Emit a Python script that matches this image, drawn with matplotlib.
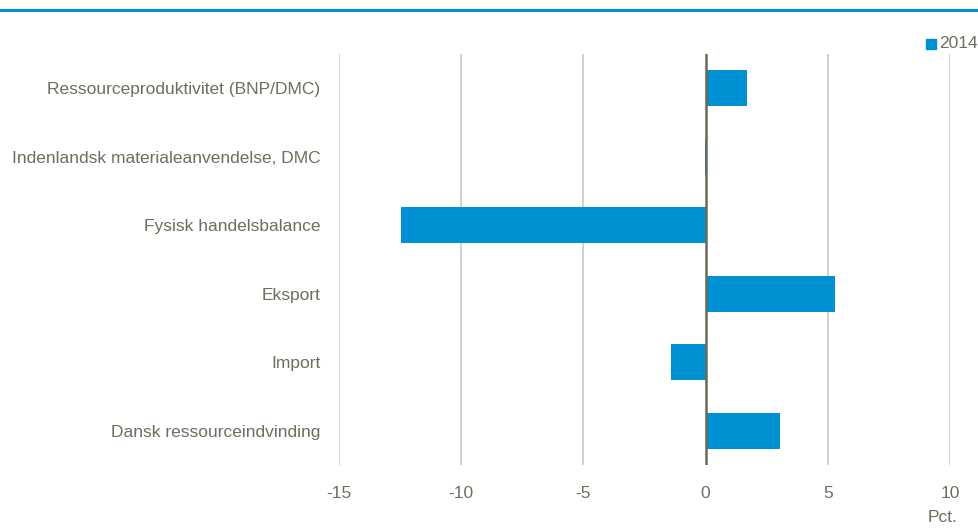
import matplotlib
matplotlib.use("Agg")
import matplotlib.pyplot as plt
from matplotlib import font_manager
from matplotlib.patches import Rectangle
from matplotlib.lines import Line2D

# ── 数据 ──
categories = [
    "Ressourceproduktivitet (BNP/DMC)",
    "Indenlandsk materialeanvendelse, DMC",
    "Fysisk handelsbalance",
    "Eksport",
    "Import",
    "Dansk ressourceindvinding",
]
values_2014 = [1.7, -0.03, -12.45, 5.3, -1.4, 3.05]
xticks = [-15, -10, -5, 0, 5, 10]
series_label = "2014"

BLUE = "#0090d4"
TEXT = "#6e6e5e"
GRID = "#c9c9c0"

# 优先用窄体字体，没有就用 Liberation Sans 并缩小字号
names = {f.name for f in font_manager.fontManager.ttflist}
if "Liberation Sans Narrow" in names:
    plt.rcParams["font.family"] = ["Liberation Sans Narrow", "DejaVu Sans"]
    FS = 14
else:
    plt.rcParams["font.family"] = ["Liberation Sans", "DejaVu Sans"]
    FS = 12.5

fig = plt.figure(figsize=(9.79, 5.28), dpi=100)
ax = fig.add_axes([339 / 979, 1 - 465 / 528, 611 / 979, 411 / 528])

y = list(range(len(categories)))
ax.barh(y, values_2014, height=0.53, color=BLUE, zorder=3)
ax.set_ylim(len(categories) - 0.5, -0.5)
ax.set_xlim(-15, 10)
ax.set_xticks(xticks)
ax.set_xticklabels([str(t) for t in xticks], fontsize=FS, color=TEXT)
ax.set_yticks(y)
ax.set_yticklabels(categories, fontsize=FS, color=TEXT)
ax.tick_params(axis="both", length=0)
ax.tick_params(axis="x", pad=15)
ax.tick_params(axis="y", pad=13.5)

for t in xticks:
    if t == 0:
        ax.axvline(t, color="#6b6b58", linewidth=1.8, zorder=4)
    else:
        ax.axvline(t, color=GRID, linewidth=1.2, zorder=1)

for s in ax.spines.values():
    s.set_visible(False)

# 顶部蓝线
fig.add_artist(Line2D([0, 1], [1 - 10 / 528, 1 - 10 / 528], color=BLUE, linewidth=2.2,
                      transform=fig.transFigure))

# 图例
fig.add_artist(Rectangle((926 / 979, 1 - 49 / 528), 10 / 979, 10 / 528, color=BLUE,
                         transform=fig.transFigure))
fig.text(939 / 979, 1 - 44 / 528, series_label, fontsize=FS, color=TEXT, va="center", ha="left")

fig.text(958 / 979, 1 - 517 / 528, "Pct.", fontsize=FS, color=TEXT, va="center", ha="right")

fig.savefig("out.png", dpi=100)
